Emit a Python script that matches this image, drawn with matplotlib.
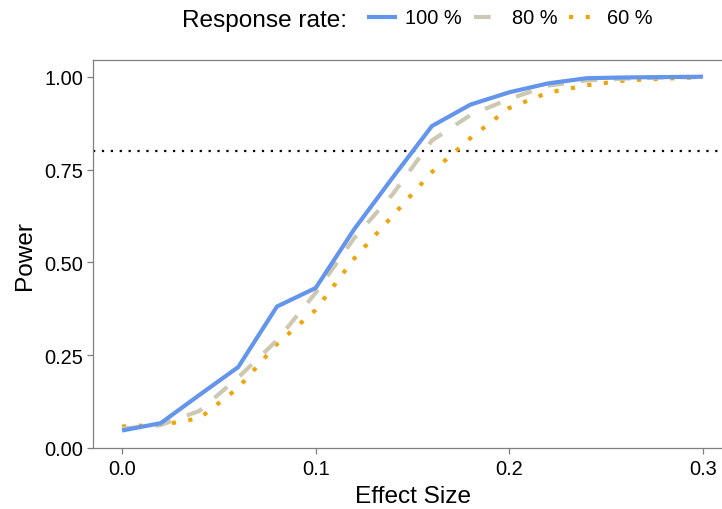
import numpy as np
import matplotlib
matplotlib.use("Agg")
import matplotlib.pyplot as plt
from matplotlib.lines import Line2D

effect = [0.00, 0.02, 0.04, 0.06, 0.08, 0.10, 0.12, 0.14,
          0.16, 0.18, 0.20, 0.22, 0.24, 0.26, 0.28, 0.30]
power_100 = [0.047, 0.067, 0.143, 0.218, 0.381, 0.431, 0.590, 0.730,
             0.867, 0.925, 0.958, 0.982, 0.996, 0.998, 0.999, 1.000]
power_80 = [0.052, 0.062, 0.100, 0.190, 0.290, 0.418, 0.566, 0.685,
            0.828, 0.897, 0.940, 0.976, 0.990, 0.995, 0.998, 0.999]
power_60 = [0.058, 0.062, 0.080, 0.162, 0.280, 0.372, 0.511, 0.627,
            0.743, 0.835, 0.916, 0.957, 0.977, 0.990, 0.995, 0.998]
rate_labels = ["100 %", "80 %", "60 %"]
target_power = 0.8

plt.rcParams['font.family'] = ['Liberation Sans', 'DejaVu Sans']

W, H = 722, 510
fig = plt.figure(figsize=(W / 100, H / 100), dpi=100)
ax = fig.add_axes([93 / W, (H - 449) / H, (732 - 93) / W, (449 - 61) / H])

lw = 3.0
l60, = ax.plot(effect, power_60, color='#EEA50C', lw=lw, dashes=(1, 3),
               dash_capstyle='butt')
l80, = ax.plot(effect, power_80, color='#CDC8B1', lw=lw, dashes=(4, 4),
               dash_capstyle='butt')
l100, = ax.plot(effect, power_100, color='#6495ED', lw=lw,
                solid_capstyle='butt')
ax.axhline(target_power, color='black', lw=1.6, dashes=(1, 3),
           dash_capstyle='butt', zorder=1)

ax.set_xlim(-0.015, 0.315)
ax.set_ylim(0, 1.045)
ax.set_xticks([0.0, 0.1, 0.2, 0.3])
ax.set_xticklabels(['0.0', '0.1', '0.2', '0.3'])
ax.set_yticks([0.0, 0.25, 0.5, 0.75, 1.0])
ax.set_yticklabels(['0.00', '0.25', '0.50', '0.75', '1.00'])

spine_col = '#7f7f7f'
for side in ['left', 'top', 'bottom', 'right']:
    ax.spines[side].set_color(spine_col)
    ax.spines[side].set_linewidth(0.9)
ax.tick_params(axis='both', colors=spine_col, labelcolor='black',
               length=4, width=0.9, labelsize=14.4, pad=3)
ax.tick_params(axis='x', pad=4)

ax.set_xlabel('Effect Size', fontsize=17.6, labelpad=5)
ax.set_ylabel('Power', fontsize=17.6, labelpad=6)

fig.text(347 / W, 1 - 27 / H, 'Response rate:', fontsize=17.6,
         ha='right', va='baseline')
handles = [Line2D([], [], color='#6495ED', lw=lw, solid_capstyle='butt'),
           Line2D([], [], color='#CDC8B1', lw=lw, dashes=(4, 4)),
           Line2D([], [], color='#EEA50C', lw=lw, dashes=(1, 3))]
fig.legend(handles, rate_labels, ncol=3, frameon=False, loc='center left',
           bbox_to_anchor=(367 / W, 1 - 19 / H), bbox_transform=fig.transFigure,
           fontsize=14.4, handlelength=1.5, handletextpad=0.4,
           columnspacing=0.6, borderpad=0, borderaxespad=0)

fig.savefig('out.png', dpi=100)
